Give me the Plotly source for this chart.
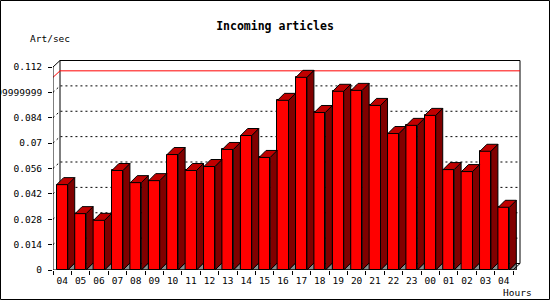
import plotly.graph_objects as go

# ---------------- data ----------------
hours = ["04", "05", "06", "07", "08", "09", "10", "11", "12", "13", "14", "15", "16",
         "17", "18", "19", "20", "21", "22", "23", "00", "01", "02", "03", "04"]
art_per_sec = [0.0471, 0.0311, 0.0274, 0.0549, 0.0482, 0.0493, 0.0637, 0.0549, 0.0571,
               0.0665, 0.0742, 0.0621, 0.0936, 0.1063, 0.0869, 0.0986, 0.0991, 0.0908,
               0.0753, 0.0798, 0.0853, 0.0554, 0.0543, 0.0655, 0.0346]
y_tickvals = [0, 0.014, 0.028, 0.042, 0.056, 0.07, 0.084, 0.098, 0.112]
y_ticktext = ["0", "0.014", "0.028", "0.042", "0.056", "0.07", "0.084",
              "0.09799999999999999", "0.112"]

# ---------------- geometry (pixels) ----------------
FW, FH = 550, 300
PX_L, PX_R, PX_T, PX_B = 53, 521, 60, 270
N = len(hours)
S = (513 - PX_L) / N             # px per category slot
YPX = (PX_B - 67) / y_tickvals[-1]   # px per unit
DX = 7 / S                       # 3D depth in slot units
DY = 7 / YPX                     # 3D depth in value units
DYB = 6.5 / YPX                  # back-plane offset
xr = [0, (PX_R - PX_L) / S]
yr = [0, (PX_B - PX_T) / YPX]
BAR_OFF, BAR_W = 0.2, 0.6
YMAX = y_tickvals[-1]

FRONT = "#ff0000"
TOP = "#c00000"
SIDE = "#800000"
GRAY = "#8c8c8c"
FONT = "DejaVu Sans Mono"

fig = go.Figure()

# front faces
fig.add_trace(go.Bar(
    x=[i + 0.5 for i in range(N)], y=art_per_sec, width=BAR_W,
    marker=dict(color=FRONT, line=dict(color="black", width=1)),
    hoverinfo="skip", showlegend=False))

def polys(builder):
    xs, ys = [], []
    for i, v in enumerate(art_per_sec):
        px, py = builder(i, v)
        xs += px + [px[0], None]
        ys += py + [py[0], None]
    return xs, ys

def top_face(i, v):
    l, r = i + BAR_OFF, i + BAR_OFF + BAR_W
    return [l, l + DX, r + DX, r], [v, v + DY, v + DY, v]

def side_face(i, v):
    r = i + BAR_OFF + BAR_W
    return [r, r + DX, r + DX, r], [v, v + DY, DY, 0]

def shadow(i, v):
    r = i + BAR_OFF + BAR_W
    return [r, r + DX, r + DX], [0, DY, 0]

for builder, col in [(shadow, GRAY), (side_face, SIDE), (top_face, TOP)]:
    xs, ys = polys(builder)
    fig.add_trace(go.Scatter(x=xs, y=ys, mode="lines", fill="toself", fillcolor=col,
                             line=dict(color="black", width=1), hoverinfo="skip",
                             showlegend=False, cliponaxis=False))

shapes = []
# back plane
shapes.append(dict(type="rect", xref="x", yref="y", x0=DX, x1=N + DX, y0=DYB, y1=YMAX + DYB,
                   line=dict(color="black", width=1), fillcolor="white", layer="below"))
# dotted grid on back plane with 3D connectors
for v in y_tickvals[1:-1]:
    shapes.append(dict(type="path", xref="x", yref="y", layer="below",
                       path=f"M 0,{v} L {DX},{v + DYB} L {N + DX},{v + DYB}",
                       line=dict(color="black", width=1, dash="2px,3px")))
# max line (red)
vmax = max(art_per_sec)
shapes.append(dict(type="path", xref="x", yref="y", layer="below",
                   path=f"M 0,{vmax} L {DX},{vmax + DYB} L {N + DX},{vmax + DYB}",
                   line=dict(color="red", width=1)))
# front axes and corner connectors
shapes.append(dict(type="path", xref="x", yref="y", layer="above",
                   path=f"M {DX},{YMAX + DYB} L 0,{YMAX} L 0,0 L {N},0 L {N + DX},{DYB}",
                   line=dict(color="black", width=1)))
# image frame
shapes.append(dict(type="rect", xref="paper", yref="paper",
                   x0=0.5 / FW, x1=549.5 / FW, y0=1 - 299.5 / FH, y1=1 - 0.5 / FH,
                   line=dict(color="black", width=1), fillcolor="rgba(0,0,0,0)"))

fig.update_layout(
    width=FW, height=FH,
    margin=dict(l=0, r=0, t=0, b=0, pad=0),
    paper_bgcolor="white", plot_bgcolor="white",
    bargap=0, showlegend=False,
    font=dict(family=FONT, size=10, color="black"),
    title=dict(text="Incoming articles", x=275 / FW, xref="paper", xanchor="center",
               y=1 - 26 / FH, yref="paper", yanchor="middle",
               font=dict(family=FONT, size=11.5, color="black", weight="bold")),
    xaxis=dict(domain=[PX_L / FW, PX_R / FW], range=xr, showgrid=False, zeroline=False,
               showline=False, tickmode="array", tickvals=[i + 0.5 for i in range(N)],
               ticktext=hours, ticks="outside", ticklen=2, tickcolor="rgba(0,0,0,0)",
               tickfont=dict(family=FONT, size=9.5), automargin=False,
               minor=dict(tickmode="linear", tick0=0, dtick=1, ticks="outside",
                          ticklen=4, tickcolor="black", tickwidth=1, showgrid=False)),
    yaxis=dict(domain=[1 - PX_B / FH, 1 - PX_T / FH], range=yr, showgrid=False,
               zeroline=False, showline=False, tickmode="array", tickvals=y_tickvals,
               ticktext=y_ticktext, ticks="outside", ticklen=4, tickcolor="black",
               tickwidth=1, tickfont=dict(family=FONT, size=9.5), automargin=False,
               ticklabelstandoff=4),
    shapes=shapes,
    annotations=[
        dict(text="Art/sec", xref="paper", yref="paper", x=50 / FW, y=1 - 38 / FH,
             showarrow=False, xanchor="center", yanchor="middle",
             font=dict(family=FONT, size=9.5)),
        dict(text="Hours", xref="paper", yref="paper", x=534 / FW, y=1 - 292 / FH,
             showarrow=False, xanchor="right", yanchor="middle",
             font=dict(family=FONT, size=9.5)),
    ],
)

fig.write_html("out.html")
